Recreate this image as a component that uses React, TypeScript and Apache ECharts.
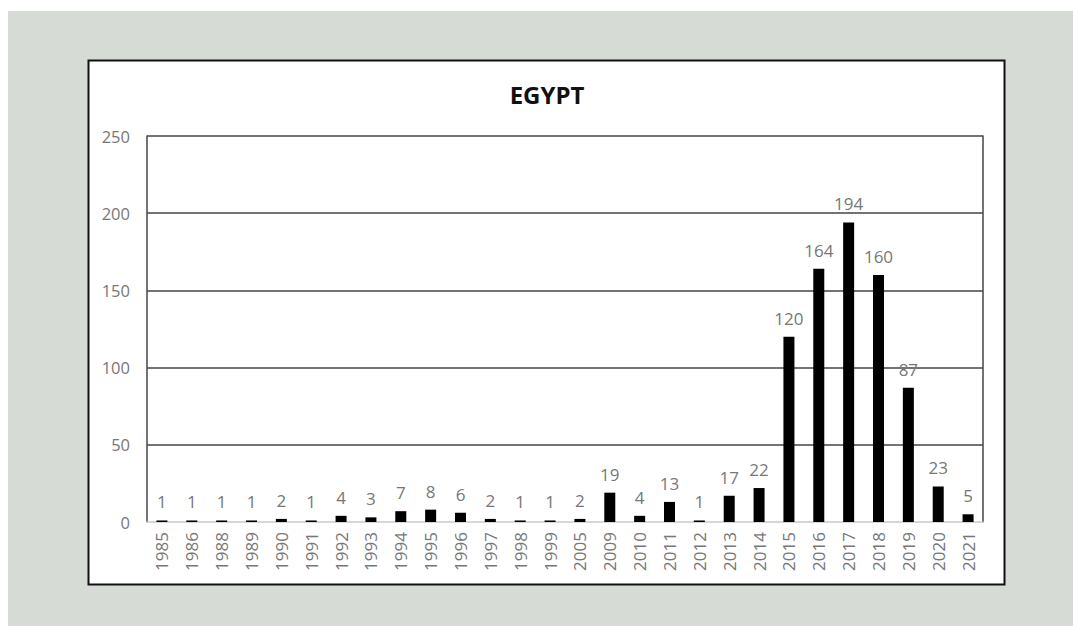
import React, { useEffect, useRef } from "react";
import * as echarts from "echarts";

const years = ["1985","1986","1988","1989","1990","1991","1992","1993","1994","1995","1996","1997","1998","1999","2005","2009","2010","2011","2012","2013","2014","2015","2016","2017","2018","2019","2020","2021"];
const counts = [1,1,1,1,2,1,4,3,7,8,6,2,1,1,2,19,4,13,1,17,22,120,164,194,160,87,23,5];
const yTicks = [0, 50, 100, 150, 200, 250];
const chartTitle = "EGYPT";

const FONT = "'Open Sans', 'Noto Sans', sans-serif";
const LABEL_COLOR = "#777777";

export default function App() {
  const ref = useRef<HTMLDivElement>(null);
  useEffect(() => {
    if (!ref.current) return;
    const chart = echarts.init(ref.current, undefined, { renderer: "svg" });
    const yMax = yTicks[yTicks.length - 1];
    const step = yTicks[1] - yTicks[0];
    chart.setOption({
      animation: false,
      backgroundColor: "#ffffff",
      graphic: [
        { type: "rect", z: -10, shape: { x: 8, y: 11, width: 1065, height: 615 }, style: { fill: "#d6dbd6" }, silent: true },
        { type: "rect", z: -9, shape: { x: 88.5, y: 60.5, width: 916, height: 524 }, style: { fill: "#ffffff", stroke: "#111111", lineWidth: 2 }, silent: true },
        { type: "text", z: 5, x: 547, y: 94, style: { text: chartTitle, font: `bold 24px ${FONT}`, fill: "#111111", textAlign: "center", textVerticalAlign: "middle" } },
      ],
      grid: { left: 147, right: 90, top: 136, bottom: 104, containLabel: false },
      xAxis: {
        type: "category",
        data: years,
        axisLine: { show: true, lineStyle: { color: "#d4d4d4", width: 1.5 } },
        axisTick: { show: false },
        axisLabel: { interval: 0, rotate: 90, margin: 10, color: LABEL_COLOR, fontFamily: FONT, fontSize: 17 },
        splitLine: { show: false },
      },
      yAxis: [
        {
          type: "value",
          min: 0,
          max: yMax,
          interval: step,
          axisLine: { show: true, lineStyle: { color: "#444444", width: 1.5 } },
          axisTick: { show: false },
          axisLabel: { margin: 17, color: LABEL_COLOR, fontFamily: FONT, fontSize: 16.5 },
          splitLine: {
            show: true,
            lineStyle: { color: ["#d4d4d4", "#444444", "#444444", "#444444", "#444444", "#444444"], width: 1.5 },
          },
        },
        {
          type: "value",
          position: "right",
          min: 0,
          max: yMax,
          interval: step,
          axisLine: { show: true, lineStyle: { color: "#444444", width: 1.5 } },
          axisTick: { show: false },
          axisLabel: { show: false },
          splitLine: { show: false },
        },
      ],
      series: [
        {
          type: "bar",
          data: counts,
          yAxisIndex: 0,
          barWidth: 11,
          itemStyle: { color: "#000000" },
          label: { show: true, position: "top", distance: 10, color: LABEL_COLOR, fontFamily: FONT, fontSize: 17 },
        },
      ],
    });
    return () => chart.dispose();
  }, []);
  return <div ref={ref} style={{ position: "fixed", left: 0, top: 0, width: 1073, height: 626 }} />;
}
